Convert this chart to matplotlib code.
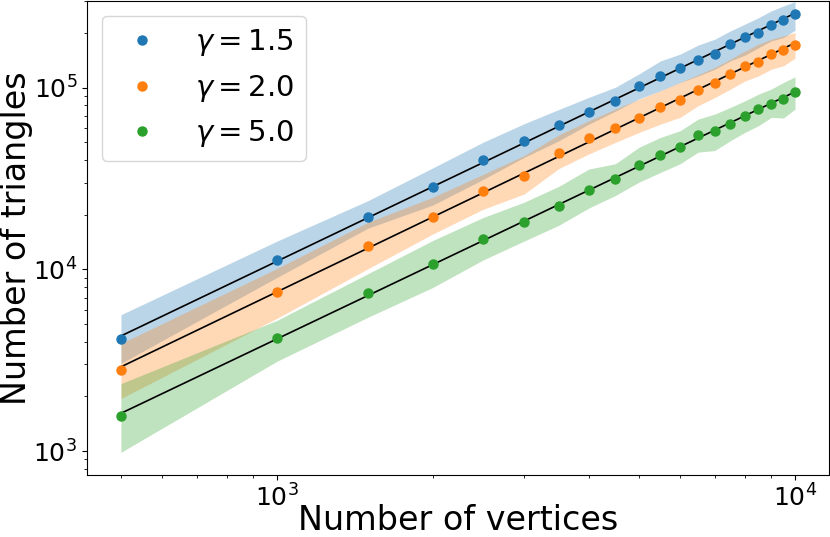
import matplotlib
matplotlib.use('Agg')
import matplotlib.pyplot as plt
import numpy as np

# number of vertices
n_vertices = [500, 1000, 1500, 2000, 2500, 3000, 3500, 4000, 4500, 5000,
              5500, 6000, 6500, 7000, 7500, 8000, 8500, 9000, 9500, 10000]

# gamma = 1.5
tri_g15 = [4130, 11300, 19330, 28330, 40060, 50660, 62130, 73860, 85030, 102900,
           115500, 128300, 142000, 154400, 173700, 191600, 201000, 222800, 236600, 256300]
lo_g15 = [3040, 9030, 16890, 22630, 31310, 41380, 51090, 63100, 74360, 86950,
          96280, 106900, 116100, 126600, 140600, 151200, 166100, 181400, 189100, 207400]
hi_g15 = [5630, 14310, 23940, 36250, 50150, 63410, 75980, 88580, 100700, 119300,
          140700, 153200, 171900, 185200, 205700, 224100, 243200, 265200, 282300, 298200]

# gamma = 2.0
tri_g20 = [2790, 7540, 13420, 19550, 27020, 32570, 43940, 52660, 59730, 68110,
           78630, 85660, 96890, 106900, 119800, 131200, 139500, 154300, 161200, 173000]
lo_g20 = [1947, 5380, 10100, 15680, 21430, 26020, 35930, 43230, 50050, 56790,
          63120, 68750, 79670, 88350, 98240, 108900, 116300, 126600, 132300, 145500]
hi_g20 = [3910, 10110, 18190, 24950, 33370, 42350, 55010, 65920, 76300, 86610,
          96250, 107200, 118000, 129400, 143600, 159200, 173900, 185100, 193300, 201500]

# gamma = 5.0
tri_g50 = [1560, 4180, 7400, 10670, 14760, 18360, 22380, 27270, 31530, 37590,
           42830, 47440, 54970, 57750, 63140, 69780, 76020, 81690, 87110, 94710]
lo_g50 = [984, 3120, 5460, 7960, 11270, 14330, 17500, 21780, 25530, 30250,
          34220, 38170, 44230, 45140, 51130, 56780, 61860, 68740, 68180, 76400]
hi_g50 = [2350, 5240, 9480, 14440, 19310, 23440, 28670, 35700, 38170, 47060,
          53320, 58010, 67220, 71670, 77970, 84660, 92230, 98450, 107000, 114900]

labels = [r'$\gamma = 1.5$', r'$\gamma = 2.0$', r'$\gamma = 5.0$']
series = [(tri_g15, lo_g15, hi_g15), (tri_g20, lo_g20, hi_g20), (tri_g50, lo_g50, hi_g50)]
colors = ['C0', 'C1', 'C2']

fig = plt.figure(figsize=(8.3, 5.37), dpi=100)
ax = fig.add_axes([87 / 830, 62 / 537, 742 / 830, 474 / 537])

x = np.array(n_vertices)
for (mean, lo, hi), c, lab in zip(series, colors, labels):
    ax.fill_between(x, lo, hi, color=c, alpha=0.3, linewidth=0)
    slope, icpt = np.polyfit(np.log10(x), np.log10(mean), 1)
    ax.plot(x, 10 ** icpt * x ** slope, c='black', lw=1.2, zorder=3)
    ax.plot(x, mean, 'o', c=c, ms=6.5, label=lab, zorder=4)

ax.set_xscale('log')
ax.set_yscale('log')
ax.set_xlim(430, 11630)
ax.set_ylim(738, 300600)

ax.set_xlabel('Number of vertices', fontsize=24)
ax.set_ylabel('Number of triangles', fontsize=24)
ax.xaxis.set_label_coords(0.5, -0.061)
ax.yaxis.set_label_coords(-0.073, 0.5)
ax.tick_params(labelsize=18)

ax.legend(loc='upper left', fontsize=21)

fig.savefig('out.png', dpi=100)
